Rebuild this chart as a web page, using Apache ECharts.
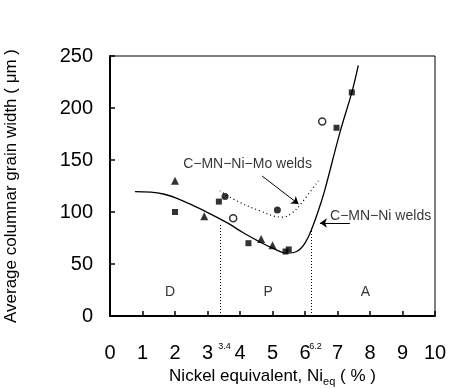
<!DOCTYPE html>
<html>
<head>
<meta charset="utf-8">
<script src="https://cdn.jsdelivr.net/npm/echarts@6/dist/echarts.min.js"></script>
<style>
  html, body { margin: 0; padding: 0; background: #fff; }
  #chart { width: 450px; height: 389px; }
</style>
</head>
<body>
<div id="chart"></div>
<script>
// measured points (Ni_eq %, grain width um)
const squares = [[2.0, 100], [3.35, 110], [4.26, 70], [5.4, 62], [5.5, 64], [6.97, 181], [7.44, 215]]
const triangles = [[2.0, 130], [2.9, 96], [4.65, 74], [5.0, 68]]
const dots = [[3.54, 115], [5.15, 102]]
const rings = [[3.79, 94], [6.53, 187]]

// fitted trend curves
const niCurve = [[0.77, 119.5], [1.64, 117.3], [2.36, 109], [2.97, 100], [3.64, 89], [4.1, 80],
  [4.62, 71], [5.02, 65], [5.44, 60.5], [5.74, 62], [6.0, 70], [6.26, 88], [6.46, 106],
  [6.6, 120], [7.08, 177], [7.44, 215], [7.64, 241]]
const moCurve = [[3.38, 120.5], [3.79, 112.5], [4.62, 101], [5.3, 95], [5.6, 99], [5.85, 107], [6.41, 130]]

// phase boundaries and regions
const boundaries = [3.4, 6.2]
const boundaryTops = [88, 84]
const regionNames = ['D', 'P', 'A']
const regionX = [1.85, 4.87, 7.86]
const regionY = 23

const noteText = ['C−MN−Ni−Mo welds', 'C−MN−Ni welds']
const notePos = [[2.25, 146], [6.77, 96]]
const arrows = [[[4.68, 134.6], [5.8, 107.7]], [[7.38, 89.4], [6.46, 89.4]]]

const font = 'Liberation Sans, Arial, Helvetica, sans-serif'
const chart = echarts.init(document.getElementById('chart'))

const option = {
  animation: false,
  textStyle: { fontFamily: font, color: '#000' },
  grid: {
    left: 110, right: 15, top: 56, bottom: 73,
    outerBoundsMode: 'none', containLabel: false,
    show: true, borderColor: '#000', borderWidth: 1
  },
  xAxis: [
    {
      type: 'value', min: 0, max: 10, interval: 1,
      name: 'Nickel equivalent, Ni{sub|eq} ( % )',
      nameLocation: 'middle', nameGap: 46,
      nameTextStyle: {
        fontSize: 17, color: '#000', fontFamily: font,
        rich: { sub: { fontSize: 11, color: '#000', fontFamily: font, verticalAlign: 'bottom', lineHeight: 22 } }
      },
      axisLine: { show: true, lineStyle: { color: '#000', width: 2 } },
      axisTick: { inside: true, length: 5, lineStyle: { color: '#000', width: 1.5 } },
      axisLabel: { fontSize: 20, color: '#000', margin: 27, fontFamily: font },
      splitLine: { show: false }
    },
    {
      type: 'value', min: 0, max: 10, position: 'bottom',
      axisLine: { show: false }, axisTick: { show: false }, splitLine: { show: false },
      axisLabel: { customValues: boundaries, fontSize: 9, color: '#000', margin: 26, fontFamily: font,
        formatter: v => v.toFixed(1), padding: [0, 0, 0, 8] }
    }
  ],
  yAxis: {
    type: 'value', min: 0, max: 250, interval: 50,
    name: 'Average columnar grain width ( μm )',
    nameLocation: 'middle', nameGap: 90, nameRotate: 90,
    nameTextStyle: { fontSize: 17, color: '#000', fontFamily: font },
    axisLine: { show: true, lineStyle: { color: '#000', width: 2 } },
    axisTick: { inside: true, length: 5, lineStyle: { color: '#000', width: 1.5 } },
    axisLabel: { fontSize: 20, color: '#000', margin: 17, fontFamily: font },
    splitLine: { show: false }
  },
  series: [
    {
      type: 'line', data: niCurve, smooth: 0.4, symbol: 'none',
      lineStyle: { color: '#000', width: 1.3 },
      markLine: {
        silent: true, symbol: ['none', 'none'], label: { show: false },
        lineStyle: { color: '#000', type: [1, 2], width: 1 },
        data: boundaries.map((b, i) => [{ coord: [b, 0] }, { coord: [b, boundaryTops[i]] }])
      }
    },
    {
      type: 'line', data: moCurve, smooth: 0.4, symbol: 'none',
      lineStyle: { color: '#000', width: 1.2, type: [1, 3] },
      markLine: {
        silent: true, symbol: ['none', 'arrow'], symbolSize: 7, label: { show: false },
        lineStyle: { color: '#000', type: 'solid', width: 1 },
        data: arrows.map(a => [{ coord: a[0] }, { coord: a[1] }])
      }
    },
    { type: 'scatter', data: squares, symbol: 'rect', symbolSize: 6, itemStyle: { color: '#000' } },
    { type: 'scatter', data: triangles, symbol: 'triangle', symbolSize: 8, itemStyle: { color: '#000' } },
    { type: 'scatter', data: dots, symbol: 'circle', symbolSize: 7, itemStyle: { color: '#000' } },
    { type: 'scatter', data: rings, symbol: 'circle', symbolSize: 7,
      itemStyle: { color: '#fff', borderColor: '#000', borderWidth: 1.5 } },
    {
      type: 'scatter', symbolSize: 0, silent: true,
      data: noteText.map((t, i) => ({ value: notePos[i], name: t })),
      label: { show: true, position: 'right', distance: 0, formatter: p => p.name,
        fontSize: 14, color: '#000', fontFamily: font }
    },
    {
      type: 'scatter', symbolSize: 0, silent: true,
      data: regionNames.map((n, i) => ({ value: [regionX[i], regionY], name: n })),
      label: { show: true, position: 'inside', formatter: p => p.name,
        fontSize: 14, color: '#000', fontFamily: font }
    }
  ]
}

chart.setOption(option)
</script>
</body>
</html>
